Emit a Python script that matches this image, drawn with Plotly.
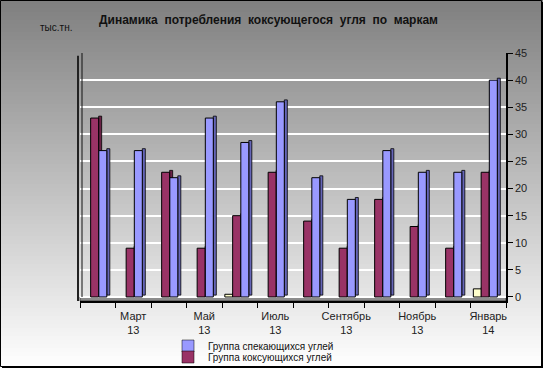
import plotly.graph_objects as go

categories = ["Февраль 13", "Март 13", "Апрель 13", "Май 13", "Июнь 13", "Июль 13",
              "Август 13", "Сентябрь 13", "Октябрь 13", "Ноябрь 13", "Декабрь 13", "Январь 14"]
tick_labels = ["", "Март<br>13", "", "Май<br>13", "", "Июль<br>13",
               "", "Сентябрь<br>13", "", "Ноябрь<br>13", "", "Январь<br>14"]
other_values = [0, 0, 0, 0, 0.5, 0, 0, 0, 0, 0, 0, 1.5]
coking_values = [33, 9, 23, 9, 15, 23, 14, 9, 18, 13, 9, 23]
sintering_values = [27, 27, 22, 33, 28.5, 36, 22, 18, 27, 23, 23, 40]
y_ticks = [0, 5, 10, 15, 20, 25, 30, 35, 40, 45]

W, H = 543, 368
ML, MR, MT, MB = 80, 37, 53, 67
PW, PH = W - ML - MR, H - MT - MB

def px_x(p):
    return (p - ML) / PW

def px_y(p):
    return (H - MB - p) / PH

fig = go.Figure()

BW = 0.225
SIDE = 0.085
series = [
    (other_values, -0.42, "#ffffcc", "#c8c890", None),
    (coking_values, -0.2, "#993366", "#6a2246", "Группа коксующихся углей"),
    (sintering_values, 0.03, "#9999ff", "#6666b8", "Группа спекающихся углей"),
]
# side faces (depth)
for vals, off, col, dcol, name in series:
    fig.add_trace(go.Bar(
        x=categories, y=vals, base=[0.35] * len(vals), offset=off + BW, width=SIDE,
        marker=dict(color=[dcol if v > 0 else "rgba(0,0,0,0)" for v in vals],
                    line=dict(color=["#000" if v > 0 else "rgba(0,0,0,0)" for v in vals], width=0.8)),
        showlegend=False, hoverinfo="skip"))
# front faces
for vals, off, col, dcol, name in series:
    fig.add_trace(go.Bar(
        x=categories, y=vals, offset=off, width=BW, name=name if name else "",
        marker=dict(color=[col if v > 0 else "rgba(0,0,0,0)" for v in vals],
                    line=dict(color=["#000" if v > 0 else "rgba(0,0,0,0)" for v in vals], width=1)),
        showlegend=False))

# legend entries (each in its own legend to control spacing)
fig.add_trace(go.Bar(x=[None], y=[None], name=series[2][4], legend="legend",
                     marker=dict(color=series[2][2], line=dict(color="#000", width=0.5))))
fig.add_trace(go.Bar(x=[None], y=[None], name=series[1][4], legend="legend2",
                     marker=dict(color=series[1][2], line=dict(color="#000", width=0.5))))

shapes = []
# background gradient over full figure
N = 92
for i in range(N):
    p0 = i * H / N
    p1 = (i + 1) * H / N + 0.6
    t = (i + 0.5) / N
    v = int(round(127 + (255 - 127) * t))
    shapes.append(dict(type="rect", xref="paper", yref="paper",
                       x0=px_x(0), x1=px_x(W), y0=px_y(p1), y1=px_y(p0),
                       fillcolor=f"rgb({v},{v},{v})", line=dict(width=0), layer="below"))
# floor
shapes.append(dict(type="rect", xref="paper", yref="y", x0=0, x1=1, y0=-0.74, y1=0,
                   fillcolor="#8c8c8c", line=dict(color="#333", width=0.8), layer="below"))
# left wall
shapes.append(dict(type="line", xref="paper", yref="y", x0=px_x(78), x1=px_x(78), y0=-0.74, y1=44.5,
                   line=dict(color="#222", width=2)))
shapes.append(dict(type="line", xref="paper", yref="y", x0=px_x(82), x1=px_x(82), y0=0, y1=45,
                   line=dict(color="#111", width=1)))
# figure border
shapes.append(dict(type="rect", xref="paper", yref="paper",
                   x0=px_x(0.5), x1=px_x(W - 1.5), y0=px_y(H - 1.5), y1=px_y(0.5),
                   line=dict(color="#000", width=1)))
shapes.append(dict(type="line", xref="paper", yref="paper",
                   x0=px_x(W - 1), x1=px_x(W - 1), y0=px_y(H), y1=px_y(2),
                   line=dict(color="#000", width=2)))
shapes.append(dict(type="line", xref="paper", yref="paper",
                   x0=px_x(2), x1=px_x(W), y0=px_y(H - 1), y1=px_y(H - 1),
                   line=dict(color="#000", width=2)))

leg_common = dict(xanchor="left", yanchor="middle", bgcolor="rgba(0,0,0,0)",
                  font=dict(size=10, color="#111"), itemwidth=30,
                  borderwidth=0)

fig.update_layout(
    width=W, height=H,
    margin=dict(l=ML, r=MR, t=MT, b=MB, autoexpand=False),
    paper_bgcolor="#ffffff", plot_bgcolor="rgba(0,0,0,0)",
    barmode="overlay",
    font=dict(family="Liberation Sans, Arial, sans-serif", size=11, color="#222"),
    shapes=shapes,
    showlegend=True,
    legend=dict(x=px_x(168), y=px_y(346), **leg_common),
    legend2=dict(x=px_x(168), y=px_y(357), **leg_common),
    xaxis=dict(type="category", categoryorder="array", categoryarray=categories,
               tickmode="array", tickvals=categories, ticktext=tick_labels, tickangle=0,
               tickson="boundaries", ticks="outside", ticklen=5, tickcolor="#000",
               ticklabelstandoff=4,
               showline=True, linecolor="#000", linewidth=1.5, showgrid=False,
               range=[-0.5, 11.5], tickfont=dict(size=11, color="#222")),
    yaxis=dict(side="right", range=[-0.74, 45], tickvals=y_ticks, ticks="outside",
               ticklen=5, tickcolor="#000", showline=True, linecolor="#000", linewidth=1.5,
               showgrid=True, gridcolor="#ffffff", gridwidth=1.5, zeroline=False,
               tickfont=dict(size=11, color="#222")),
    annotations=[
        dict(text="<b>Динамика  потребления  коксующегося  угля  по  маркам</b>",
             xref="paper", yref="paper", x=px_x(268), y=px_y(20), showarrow=False,
             xanchor="center", yanchor="middle", font=dict(size=12, color="#111")),
        dict(text="тыс.тн.", xref="paper", yref="paper", x=px_x(56), y=px_y(27),
             showarrow=False, xanchor="center", yanchor="middle",
             font=dict(size=10, color="#111")),
    ],
)

fig.write_html("out.html", config={"displayModeBar": False},
               post_script="document.body.style.margin='0';document.body.style.overflow='hidden';")
